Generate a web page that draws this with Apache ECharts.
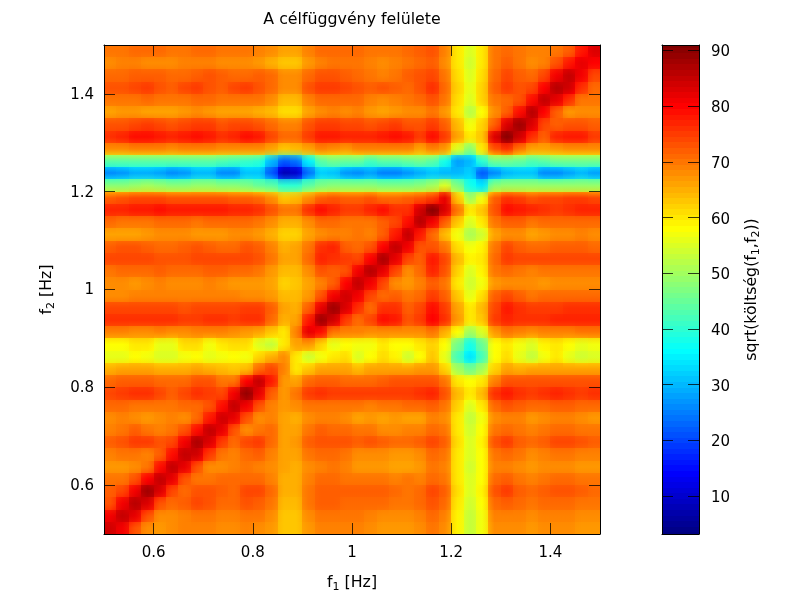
<!DOCTYPE html>
<html><head><meta charset="utf-8">
<style>html,body{margin:0;padding:0;background:#fff}#c{width:800px;height:600px}</style>
<script src="https://cdn.jsdelivr.net/npm/echarts@6/dist/echarts.min.js"></script>
</head><body><div id="c"></div>
<script>
const titleText = 'A célfüggvény felülete';
const f1Ticks = [0.6, 0.8, 1, 1.2, 1.4];
const f2Ticks = [0.6, 0.8, 1, 1.2, 1.4];
const colorTicks = [10, 20, 30, 40, 50, 60, 70, 80, 90];
const f1Range = [0.5, 1.5];
const f2Range = [0.5, 1.5];
const colorRange = [3.2, 91];
const cellSize = 0.025;
const f1Cells = [0.5125,0.5375,0.5625,0.5875,0.6125,0.6375,0.6625,0.6875,0.7125,0.7375,0.7625,0.7875,0.8125,0.8375,0.8625,0.8875,0.9125,0.9375,0.9625,0.9875,1.0125,1.0375,1.0625,1.0875,1.1125,1.1375,1.1625,1.1875,1.2125,1.2375,1.2625,1.2875,1.3125,1.3375,1.3625,1.3875,1.4125,1.4375,1.4625,1.4875];
const f2Cells = [1.4875,1.4625,1.4375,1.4125,1.3875,1.3625,1.3375,1.3125,1.2875,1.2625,1.2375,1.2125,1.1875,1.1625,1.1375,1.1125,1.0875,1.0625,1.0375,1.0125,0.9875,0.9625,0.9375,0.9125,0.8875,0.8625,0.8375,0.8125,0.7875,0.7625,0.7375,0.7125,0.6875,0.6625,0.6375,0.6125,0.5875,0.5625,0.5375,0.5125];
const colorLevels = [3,4,5,6,7,8,9,10,11,12,13,14,15,16,17,18,19,20,21,22,23,24,25,26,27,28,29,30,31,32,33,34,35,36,37,38,39,40,41,42,43,44,45,46,47,48,49,50,51,52,53,54,55,56,57,58,59,60,61,62,63,64,65,66,67,68,69,70,71,72,73,74,75,76,77,78,79,80,81,82,83,84,85,86,87,88,89,90,91];
const costRows = [
[70,70,71,71,71,70,70,71,71,70,70,70,69,68,66,66,69,71,71,71,71,70,70,70,71,72,73,69,60,55,60,70,71,70,69,69,70,72,78,83],
[68,69,69,68,68,68,69,69,69,68,68,68,67,65,63,63,67,69,70,70,70,69,68,69,70,71,72,68,60,54,60,70,72,70,68,69,73,78,82,80],
[71,71,72,72,72,71,71,72,73,72,71,71,72,71,68,68,71,73,73,72,71,70,69,70,72,73,74,70,61,55,61,71,74,72,71,74,81,85,81,74],
[73,73,74,75,73,72,74,75,73,72,74,75,73,71,68,68,73,75,75,74,73,72,73,72,71,73,76,71,62,56,62,72,75,73,74,80,86,84,76,71],
[70,70,70,71,70,70,70,71,71,70,70,70,70,68,64,64,69,71,71,71,71,69,68,69,70,71,73,70,61,55,62,70,71,73,79,85,82,76,70,70],
[66,67,67,66,66,66,67,68,67,66,66,66,65,64,61,61,66,68,69,68,69,67,66,67,68,68,70,67,60,52,58,68,72,79,86,80,72,67,68,68],
[73,73,74,75,74,73,74,75,75,73,74,74,73,71,69,69,73,75,75,74,74,73,74,75,73,73,75,72,64,57,62,72,83,88,83,74,72,73,73,72],
[76,77,79,79,78,77,78,79,78,76,77,79,78,74,71,71,75,78,78,77,77,77,78,79,78,75,79,75,66,60,63,83,90,84,76,72,77,78,78,75],
[68,68,69,69,69,68,69,69,69,68,68,68,68,66,63,64,66,69,68,67,69,69,69,69,69,66,69,67,55,48,60,73,76,70,66,66,67,68,68,68],
[44,44,44,44,44,44,44,44,44,43,42,41,40,30,22,24,35,44,46,45,45,42,44,44,45,46,44,38,28,30,40,46,46,45,43,44,46,46,46,46],
[26,27,29,29,28,26,27,30,30,26,26,31,31,22,8,10,24,32,31,27,26,28,25,25,27,29,31,30,30,32,22,26,30,31,31,26,26,28,30,28],
[48,48,49,50,49,48,48,49,49,48,48,47,45,44,40,40,44,47,48,48,48,48,47,47,47,48,50,55,47,38,34,48,49,49,49,49,49,49,49,49],
[72,73,74,74,74,73,73,73,73,73,72,72,71,68,63,64,68,72,73,72,72,73,71,71,72,73,75,82,63,50,57,72,76,75,73,74,74,75,75,74],
[77,77,78,78,79,78,78,78,78,78,77,77,76,73,70,70,76,79,77,75,75,77,79,76,76,84,90,83,70,60,63,73,79,78,77,76,75,76,77,77],
[71,70,70,70,71,71,71,70,71,71,71,71,70,68,65,65,68,71,71,70,70,70,72,74,79,86,81,72,63,55,60,70,72,72,70,71,71,71,71,71],
[66,66,66,67,68,68,68,67,67,67,68,68,67,65,62,62,66,68,69,69,70,69,72,78,85,78,71,64,57,51,54,66,68,68,66,67,68,68,69,68],
[72,73,73,72,71,71,72,73,72,71,71,73,72,69,65,66,70,76,77,72,71,73,80,85,81,73,73,70,61,57,59,70,74,72,71,71,72,72,72,71],
[74,74,74,74,73,73,73,74,74,74,74,74,73,70,66,66,71,77,76,75,74,80,87,82,74,72,78,74,64,59,60,71,75,74,74,74,74,74,74,74],
[70,71,71,71,72,71,71,71,72,72,71,71,70,67,64,64,68,73,72,73,81,86,82,74,68,71,77,73,62,55,59,70,71,70,69,70,70,70,70,70],
[68,68,67,68,69,68,68,68,69,68,67,67,67,66,62,63,66,69,72,80,85,81,74,68,67,69,72,70,60,54,57,67,68,68,68,67,68,68,68,68],
[68,68,69,69,69,69,69,69,69,69,69,68,68,67,64,64,67,73,81,84,81,74,71,72,70,71,75,72,63,56,61,72,74,72,70,71,71,71,71,71],
[74,74,74,74,74,74,73,74,74,74,74,75,75,72,66,65,72,82,88,83,76,71,76,76,72,74,79,75,66,60,64,74,78,76,75,75,75,76,76,76],
[76,76,76,76,76,76,75,75,76,76,75,76,76,71,65,66,78,88,84,75,71,74,79,78,73,75,80,76,67,60,63,75,77,76,76,76,77,77,77,77],
[69,69,68,68,69,68,68,69,69,69,68,67,66,63,60,69,82,79,70,69,69,68,68,68,68,68,70,65,58,50,55,67,70,69,68,69,69,69,70,70],
[58,58,60,60,56,56,61,61,57,60,61,61,55,53,60,66,67,62,56,58,57,57,60,58,58,60,62,58,46,38,45,58,60,57,55,59,60,58,56,57],
[56,56,58,57,55,55,57,58,56,57,58,57,62,65,68,60,54,57,60,61,55,58,61,59,54,58,63,56,42,34,42,58,61,56,53,57,60,56,54,55],
[65,66,66,66,65,65,65,66,65,64,63,64,71,74,69,60,63,66,66,66,64,66,66,66,66,67,67,62,50,46,50,62,66,65,66,66,66,66,66,66],
[71,72,72,72,71,71,71,73,73,70,70,80,85,78,67,66,71,72,72,71,71,71,72,73,73,73,73,70,60,58,60,69,73,73,73,73,73,73,73,73],
[74,75,76,76,74,72,74,76,75,74,81,89,82,72,67,70,75,76,75,75,75,75,75,75,75,76,77,73,64,60,64,76,78,76,75,76,77,76,75,76],
[71,71,70,70,70,70,71,71,73,79,85,81,73,69,67,68,70,70,70,70,70,69,70,70,71,71,72,70,62,55,60,71,73,72,71,71,72,72,71,71],
[68,69,68,67,68,69,68,71,78,84,82,73,68,69,66,65,68,69,69,68,66,67,66,67,66,66,69,68,60,53,57,68,69,69,67,68,69,69,68,67],
[69,70,72,70,69,70,73,79,85,82,73,68,70,71,66,66,70,72,71,71,70,70,68,68,69,69,71,70,60,54,58,70,71,70,69,70,71,71,70,70],
[72,73,75,75,73,74,81,87,83,75,71,74,75,71,66,67,72,73,73,73,72,73,72,71,71,72,74,72,61,55,59,73,75,72,71,72,74,74,73,72],
[69,70,70,69,72,79,85,84,75,70,69,71,72,69,66,66,70,71,71,70,68,68,68,67,67,68,71,70,60,55,58,70,71,70,68,69,70,70,69,69],
[67,67,68,70,79,85,82,73,68,68,69,70,69,68,66,65,68,69,70,69,67,67,67,66,66,67,70,69,60,54,58,69,69,68,67,68,68,68,67,67],
[70,70,73,80,85,82,73,70,70,71,71,71,71,69,65,65,69,71,71,70,70,70,70,69,70,69,71,70,60,55,58,71,72,70,69,70,71,71,70,70],
[72,74,81,88,83,74,71,73,73,72,71,74,74,71,65,65,70,72,72,72,72,72,72,71,70,71,74,72,61,55,59,73,75,72,71,72,73,73,72,71],
[73,81,86,83,73,71,72,74,73,71,71,73,72,70,64,64,70,72,72,71,71,71,71,70,70,71,73,71,60,54,58,71,72,71,70,71,71,71,70,70],
[81,85,82,73,68,68,69,70,70,69,69,70,70,68,63,63,68,70,70,70,70,69,68,68,68,69,71,69,59,53,57,69,69,69,68,69,69,69,68,68],
[84,81,73,68,67,68,69,69,69,68,68,69,68,67,63,63,67,69,69,69,69,68,67,67,67,68,70,68,59,53,57,68,68,68,67,68,68,68,67,67]
];
const jet = ['#00007f','#0000ff','#0080ff','#00ffff','#80ff80','#ffff00','#ff8000','#ff0000','#7f0000'];

const cells = [];
costRows.forEach((row, r) => row.forEach((v, c) => cells.push([f1Cells[c], f2Cells[r], v, r, c])));
const barCells = colorLevels.map(l => [0.5, l, l]);

const font = 'DejaVu Sans';
const nameStyle = () => ({
  fontFamily: font, color: '#000', fontSize: 15.8,
  rich: {
    a: { fontFamily: font, fontSize: 15.8, color: '#000', lineHeight: 20 },
    s: { fontFamily: font, fontSize: 11, color: '#000', lineHeight: 20, padding: [8, 0, 0, 0] }
  }
});
const line = { lineStyle: { color: '#000', width: 1 } };
const tick = vals => ({ show: true, inside: true, length: 11, customValues: vals, lineStyle: { color: 'rgba(0,0,0,0.75)', width: 1 } });
const lab = (vals, margin, drop) => ({ show: true, customValues: vals, margin, color: '#000', fontFamily: font, fontSize: 15,
  formatter: v => `{v|${v}}`,
  rich: { v: { fontFamily: font, fontSize: 15, color: '#000', padding: [drop, 0, 0, 0] } } });

function rectOf(api, xa, xb, ya, yb) {
  const p0 = api.coord([xa, ya]), p1 = api.coord([xb, yb]);
  const x0 = Math.round(p0[0]), x1 = Math.round(p1[0]), y0 = Math.round(p1[1]), y1 = Math.round(p0[1]);
  return { x: x0, y: y0, width: x1 - x0, height: y1 - y0 };
}
// Colour of a value on the jet scale; used only to shade a cell's own fill toward its neighbours.
const jetOf = v => echarts.color.lerp((v - colorRange[0]) / (colorRange[1] - colorRange[0]), jet);
const gradient = (x2, y2, a, b, c) => ({ type: 'linear', x: 0, y: 0, x2, y2, colorStops: [
  { offset: 0, color: jetOf((a + b) / 2) }, { offset: 0.5, color: jetOf(b) }, { offset: 1, color: jetOf((b + c) / 2) } ] });

const option = {
  animation: false,
  backgroundColor: '#fff',
  title: { text: titleText, left: 347, top: 7, textAlign: 'center',
    textStyle: { fontFamily: font, fontSize: 15.8, fontWeight: 'normal', color: '#000' } },
  grid: [
    { left: 104, top: 45, width: 496, height: 489, outerBoundsMode: 'none' },
    { left: 662, top: 45, width: 37, height: 489, outerBoundsMode: 'none' }
  ],
  xAxis: [
    { type: 'value', gridIndex: 0, position: 'bottom', min: f1Range[0], max: f1Range[1], z: 5, splitLine: { show: false },
      axisLine: { show: true, onZero: false, ...line }, axisTick: tick(f1Ticks), axisLabel: lab(f1Ticks, 12, 0),
      name: '{a|f}{s|1}{a| [Hz]}', nameLocation: 'middle', nameGap: 39, nameTextStyle: nameStyle() },
    { type: 'value', gridIndex: 0, position: 'top', min: f1Range[0], max: f1Range[1], z: 5, splitLine: { show: false },
      axisLine: { show: true, onZero: false, ...line }, axisTick: tick(f1Ticks), axisLabel: { show: false } },
    { type: 'value', gridIndex: 1, position: 'bottom', min: 0, max: 1, z: 5, splitLine: { show: false },
      axisLine: { show: true, onZero: false, ...line }, axisTick: { show: false }, axisLabel: { show: false } },
    { type: 'value', gridIndex: 1, position: 'top', min: 0, max: 1, z: 5, splitLine: { show: false },
      axisLine: { show: true, onZero: false, ...line }, axisTick: { show: false }, axisLabel: { show: false } }
  ],
  yAxis: [
    { type: 'value', gridIndex: 0, position: 'left', min: f2Range[0], max: f2Range[1], z: 5, splitLine: { show: false },
      axisLine: { show: true, onZero: false, ...line }, axisTick: tick(f2Ticks), axisLabel: lab(f2Ticks, 10, 2),
      name: '{a|f}{s|2}{a| [Hz]}', nameLocation: 'middle', nameGap: 47, nameRotate: 90, nameTextStyle: nameStyle() },
    { type: 'value', gridIndex: 0, position: 'right', min: f2Range[0], max: f2Range[1], z: 5, splitLine: { show: false },
      axisLine: { show: true, onZero: false, ...line }, axisTick: tick(f2Ticks), axisLabel: { show: false } },
    { type: 'value', gridIndex: 1, position: 'left', min: colorRange[0], max: colorRange[1], z: 5, splitLine: { show: false },
      axisLine: { show: true, onZero: false, ...line }, axisTick: tick(colorTicks), axisLabel: { show: false } },
    { type: 'value', gridIndex: 1, position: 'right', min: colorRange[0], max: colorRange[1], z: 5, splitLine: { show: false },
      axisLine: { show: true, onZero: false, ...line }, axisTick: tick(colorTicks), axisLabel: lab(colorTicks, 12, 4),
      name: '{a|sqrt(költség(f}{s|1}{a|,f}{s|2}{a|))}', nameLocation: 'middle', nameGap: 43, nameRotate: 90, nameTextStyle: nameStyle() }
  ],
  visualMap: { show: false, type: 'continuous', min: colorRange[0], max: colorRange[1], dimension: 2, seriesIndex: [0, 1],
    inRange: { color: jet } },
  series: [
    { type: 'custom', name: 'cost', xAxisIndex: 0, yAxisIndex: 0, z: 1, clip: true, data: cells, encode: { x: 0, y: 1 },
      renderItem: (params, api) => {
        const x = api.value(0), y = api.value(1), v = api.value(2), r = api.value(3), c = api.value(4), h = cellSize / 2;
        const rowVals = costRows[r];
        const left = c > 0 ? rowVals[c - 1] : v, right = c < rowVals.length - 1 ? rowVals[c + 1] : v;
        const up = r > 0 ? costRows[r - 1][c] : v, down = r < costRows.length - 1 ? costRows[r + 1][c] : v;
        const shape = rectOf(api, x - h, x + h, y - h, y + h);
        return { type: 'group', children: [
          { type: 'rect', shape, style: { fill: gradient(1, 0, left, v, right) } },
          { type: 'rect', shape, style: { fill: gradient(0, 1, up, v, down), opacity: 0.5 } }
        ] };
      } },
    { type: 'custom', name: 'scale', xAxisIndex: 2, yAxisIndex: 2, z: 1, clip: true, data: barCells, encode: { x: 0, y: 1 },
      renderItem: (params, api) => {
        const y = api.value(1);
        return { type: 'rect', shape: rectOf(api, 0, 1, y - 0.5, y + 0.5), style: { fill: api.visual('color') } };
      } }
  ]
};
echarts.init(document.getElementById('c'), null, { renderer: 'canvas' }).setOption(option);
</script></body></html>
